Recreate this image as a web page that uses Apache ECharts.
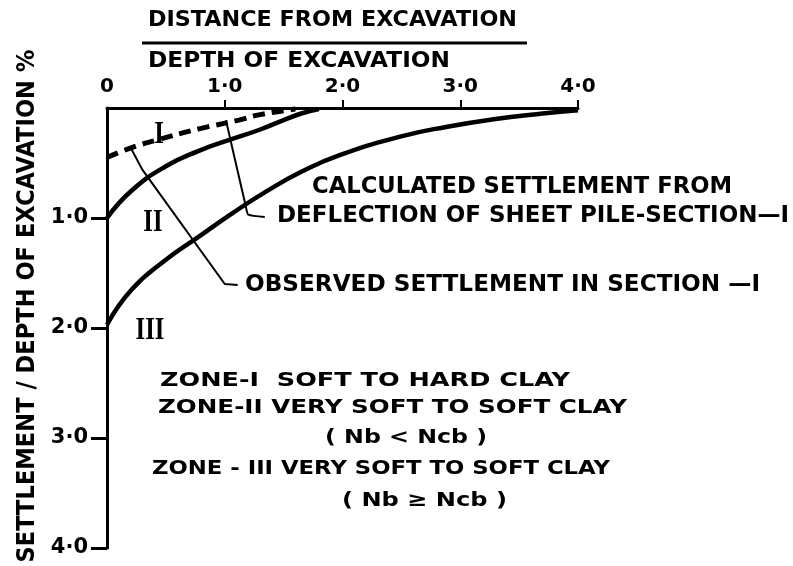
<!DOCTYPE html>
<html>
<head>
<meta charset="utf-8">
<script src="https://cdn.jsdelivr.net/npm/echarts@6/dist/echarts.min.js"></script>
<style>
  html, body { margin: 0; padding: 0; background: #fff; }
  #chart { width: 793px; height: 566px; }
</style>
</head>
<body>
<div id="chart"></div>
<script>
// tick labels as printed on the sheet
var xTickLabels = ['0', '1·0', '2·0', '3·0', '4·0'];
var yTickLabels = ['', '1·0', '2·0', '3·0', '4·0'];

// [distance/depth, settlement/depth %]
var zoneOneLimit = [[0, 1.0], [0.21, 0.75], [0.5, 0.53], [0.78, 0.39], [1.04, 0.29],
  [1.29, 0.2], [1.5, 0.11], [1.65, 0.05], [1.8, 0.01]];
var zoneTwoLimit = [[0, 1.97], [0.21, 1.65], [0.5, 1.38], [0.78, 1.17], [1.06, 0.96], [1.35, 0.76],
  [1.65, 0.58], [1.97, 0.43], [2.49, 0.26], [2.89, 0.17], [3.3, 0.1], [3.7, 0.05], [4.0, 0.02]];
var observedSection1 = [[0, 0.45], [0.21, 0.36], [0.43, 0.29], [0.78, 0.19],
  [1.12, 0.11], [1.3, 0.06], [1.6, 0.01]];

// leader lines from the notes to the curves
var observedLeader = [[1.11, 1.61], [1.0, 1.6], [0.3, 0.56], [0.21, 0.38]];
var deflectionLeader = [[1.34, 0.99], [1.2, 0.97], [1.18, 0.9], [1.01, 0.11]];

var ink = '#000';
var measure = document.createElement('canvas').getContext('2d');

// bold lettering squeezed to the width it takes on the sheet
function note(str, x, y, w, size, extra) {
  var font = 'bold ' + size + 'px "DejaVu Sans"';
  measure.font = font;
  var el = {
    type: 'text', x: x, y: y, z: 10,
    scaleX: w / measure.measureText(str).width,
    style: { text: str, font: font, fill: ink, align: 'left', verticalAlign: 'middle' }
  };
  return Object.assign(el, extra || {});
}
function roman(str, x, y) {
  return {
    type: 'text', x: x, y: y, z: 10, scaleX: 0.8,
    style: { text: str, font: 'bold 31px "Liberation Serif"', fill: ink, align: 'center', verticalAlign: 'middle' }
  };
}

var yName = note('SETTLEMENT / DEPTH OF EXCAVATION %', 28, 306, 513, 24, { rotation: Math.PI / 2 });
yName.style.align = 'center';

var chart = echarts.init(document.getElementById('chart'));
chart.setOption({
  backgroundColor: '#fff',
  animation: false,
  grid: { left: 107, top: 108, right: 215, bottom: 18 },
  xAxis: {
    type: 'value', position: 'top', min: 0, max: 4, interval: 1,
    axisLine: { lineStyle: { color: ink, width: 3 } },
    axisTick: { length: 8, customValues: [1, 2, 3, 4], lineStyle: { color: ink, width: 2 } },
    axisLabel: {
      margin: 11, color: ink, fontFamily: 'DejaVu Sans', fontWeight: 'bold', fontSize: 20,
      formatter: function (v) { return xTickLabels[Math.round(v)]; }
    },
    splitLine: { show: false }
  },
  yAxis: {
    type: 'value', inverse: true, min: 0, max: 4, interval: 1,
    axisLine: { lineStyle: { color: ink, width: 3 } },
    axisTick: { length: 16, customValues: [1, 2, 3, 4], lineStyle: { color: ink, width: 3 } },
    axisLabel: {
      margin: 19, color: ink, fontFamily: 'DejaVu Sans', fontWeight: 'bold', fontSize: 21,
      formatter: function (v) { return yTickLabels[Math.round(v)]; }
    },
    splitLine: { show: false }
  },
  series: [
    { type: 'line', data: zoneOneLimit, smooth: 0.5, showSymbol: false,
      lineStyle: { color: ink, width: 4.5 } },
    { type: 'line', data: zoneTwoLimit, smooth: 0.5, showSymbol: false,
      lineStyle: { color: ink, width: 4.5 } },
    { type: 'line', data: observedSection1, smooth: 0.5, showSymbol: false,
      lineStyle: { color: ink, width: 5, type: [12, 7] } },
    { type: 'line', data: observedLeader, showSymbol: false, lineStyle: { color: ink, width: 2 } },
    { type: 'line', data: deflectionLeader, smooth: 0.2, showSymbol: false, lineStyle: { color: ink, width: 2 } }
  ],
  graphic: [
    note('DISTANCE FROM EXCAVATION', 148, 21, 369, 21),
    { type: 'line', shape: { x1: 142, y1: 43, x2: 527, y2: 43 }, style: { stroke: ink, lineWidth: 3 } },
    note('DEPTH OF EXCAVATION', 148, 62, 302, 21),
    note('CALCULATED SETTLEMENT FROM', 312, 187, 420, 23),
    note('DEFLECTION OF SHEET PILE-SECTION—I', 277, 216, 512, 23),
    note('OBSERVED SETTLEMENT IN SECTION —I', 245, 285, 515, 23),
    note('ZONE-I  SOFT TO HARD CLAY', 160, 381, 410, 20),
    note('ZONE-II VERY SOFT TO SOFT CLAY', 158, 408, 469, 20),
    note('( Nb < Ncb )', 325, 438, 162, 20),
    note('ZONE - III VERY SOFT TO SOFT CLAY', 152, 469, 458, 20),
    note('( Nb ≥ Ncb )', 342, 501, 165, 20),
    yName,
    roman('I', 159, 135),
    roman('II', 153, 223),
    roman('III', 150, 331)
  ]
});
</script>
</body>
</html>
